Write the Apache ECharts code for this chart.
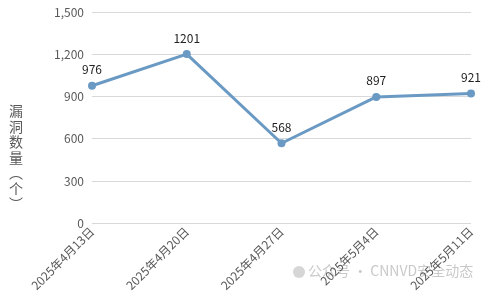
<!DOCTYPE html>
<html><head><meta charset="utf-8">
<script src="https://cdn.jsdelivr.net/npm/echarts@6/dist/echarts.min.js"></script>
<style>html,body{margin:0;padding:0;background:#fff}#c{width:486px;height:294px}</style>
</head><body><div id="c"></div>
<script>
var categories = ['2025年4月13日','2025年4月20日','2025年4月27日','2025年5月4日','2025年5月11日'];
var values = [976, 1201, 568, 897, 921];
var yTicks = [0, 300, 600, 900, 1200, 1500];
var yName = '漏洞数量（个）';

var chart = echarts.init(document.getElementById('c'));
var font = '"Noto Sans CJK SC", "Noto Sans", sans-serif';
chart.setOption({
  animation: false,
  textStyle: {fontFamily: font},
  grid: {left: 92, right: 15, top: 12, bottom: 67},
  xAxis: {
    type: 'category', data: categories, boundaryGap: false,
    axisLine: {show: false}, axisTick: {show: false},
    axisLabel: {rotate: 45, color: '#595959', fontSize: 12, margin: 6, fontFamily: font}
  },
  yAxis: {
    type: 'value', min: yTicks[0], max: yTicks[yTicks.length-1], interval: 300,
    axisLine: {show: false}, axisTick: {show: false},
    axisLabel: {color: '#595959', fontSize: 12, margin: 8, fontFamily: font,
      formatter: function(v){ return v.toLocaleString('en-US'); }},
    splitLine: {lineStyle: {color: '#d9d9d9', width: 1}}
  },
  graphic: [
    {type: 'text', left: 9, top: 103, style: {
      text: yName.replace('（','︵').replace('）','︶').split('').join('\n'),
      fill: '#595959', font: '14px ' + font, lineHeight: 15.5, align: 'left'}},
    {type: 'circle', shape: {cx: 299, cy: 272, r: 6}, style: {fill: '#bbbbbb', opacity: 0.6}},
    {type: 'text', left: 308, top: 264, style: {text: '公众号 · CNNVD安全动态', fill: '#bbbbbb', opacity: 0.8, font: '14px ' + font}}
  ],
  series: [{
    type: 'line', data: values,
    symbol: 'circle', symbolSize: 8,
    lineStyle: {color: '#6a9ac4', width: 3},
    itemStyle: {color: '#6a9ac4'},
    label: {show: true, position: 'top', color: '#222222', fontSize: 12, distance: 6, fontFamily: font}
  }]
});
</script></body></html>
